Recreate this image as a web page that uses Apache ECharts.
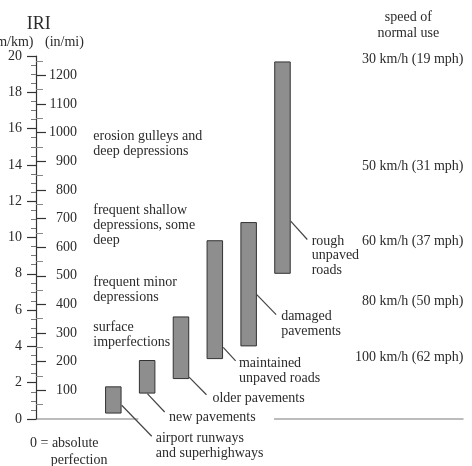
<!DOCTYPE html>
<html>
<head>
<meta charset="utf-8">
<script src="https://cdn.jsdelivr.net/npm/echarts@6/dist/echarts.min.js"></script>
<style>html,body{margin:0;padding:0;background:#fff;}#c{width:472px;height:466px;}</style>
</head>
<body>
<div id="c"></div>
<script>
// ---- data ----
var categories = ["airport runways\nand superhighways", "new pavements", "older pavements", "maintained\nunpaved roads", "damaged\npavements", "rough\nunpaved\nroads"];
var lowIRI  = [0.3, 1.4, 2.2, 3.3, 4.0, 8.0];     // m/km
var highIRI = [1.8, 3.25, 5.65, 9.85, 10.85, 19.7]; // m/km
var iriTicks = [0, 2, 4, 6, 8, 10, 12, 14, 16, 18, 20];          // m/km
var inmiTicks = [100, 200, 300, 400, 500, 600, 700, 800, 900, 1000, 1100, 1200]; // in/mi
var IN_PER_MI_PER_M_PER_KM = 63.36;
var speedLabels = ["30 km/h (19 mph)", "50 km/h (31 mph)", "60 km/h (37 mph)", "80 km/h (50 mph)", "100 km/h (62 mph)"];
var conditionLabels = ["erosion gulleys and\ndeep depressions", "frequent shallow\ndepressions, some\ndeep", "frequent minor\ndepressions", "surface\nimperfections"];

// ---- layout (pixels, not data) ----
var FONT = "'Liberation Serif', 'Times New Roman', serif";
var TXT = '#2b2b2b';
// leader line: start offset from bar bottom-centre, line vector, text offset from line end
var leaderLayout = [
  {sx: 8.4, sy: -8.3, lx: 30, ly: 31, tx: 4, ty: 2.3},
  {sx: 0.2, sy: 0, lx: 17.3, ly: 18.4, tx: 4.3, ty: 5.6},
  {sx: 8.1, sy: -2, lx: 17.4, ly: 17.7, tx: 6, ty: 4},
  {sx: 8.4, sy: -11.7, lx: 12.4, ly: 13.4, tx: 3.3, ty: 2.6},
  {sx: 8.1, sy: -51.7, lx: 19.4, ly: 20, tx: 5, ty: 1.7},
  {sx: 8.2, sy: -52.6, lx: 16.6, ly: 18.3, tx: 4.4, ty: 1.7}
];
var speedY = [59.3, 166.7, 241, 301.7, 357.3];
var condY = [136.7, 210.7, 282.3, 327.7];

var rangeVals = highIRI.map(function (h, i) { return +(h - lowIRI[i]).toFixed(3); });
var leaderData = categories.map(function (c, i) { return [i, lowIRI[i], highIRI[i]]; });

var chart = echarts.init(document.getElementById('c'), null, {renderer: 'canvas'});

var graphics = [];
function txt(s, x, y, opts) {
  opts = opts || {};
  graphics.push({
    type: 'text', x: x, y: y, silent: true,
    style: {
      text: s, font: (opts.size || 14) + 'px ' + FONT, fill: TXT,
      textAlign: opts.align || 'left', textVerticalAlign: opts.valign || 'middle',
      lineHeight: opts.lh || 14.6
    }
  });
}
txt('IRI', 38.7, 24, {size: 18, align: 'center'});
txt('(m/km)', 33.5, 42.7, {align: 'right'});
txt('(in/mi)', 45, 42.7);
txt('speed of', 408.3, 17.3, {align: 'center'});
txt('normal use', 408.3, 33.3, {align: 'center'});
speedLabels.forEach(function (s, i) { txt(s, 463.5, speedY[i], {align: 'right'}); });
conditionLabels.forEach(function (s, i) { txt(s, 93.3, condY[i] - 7.3, {valign: 'top'}); });
txt('0 = absolute', 30, 443.3);
txt('perfection', 50.7, 460);
// baseline (interrupted by the annotations)
graphics.push({type: 'line', silent: true, shape: {x1: 36, y1: 419, x2: 138.3, y2: 419}, style: {stroke: '#7a7a7a', lineWidth: 1.2}});
graphics.push({type: 'line', silent: true, shape: {x1: 274, y1: 419, x2: 463.5, y2: 419}, style: {stroke: '#7a7a7a', lineWidth: 1.2}});

var option = {
  backgroundColor: '#fff',
  animation: false,
  textStyle: {fontFamily: FONT},
  grid: [
    {left: 36, right: 9, top: 56, bottom: 47, containLabel: false},
    {left: 96.4, width: 203, top: 56, bottom: 47, containLabel: false}
  ],
  xAxis: [
    {gridIndex: 0, type: 'value', min: 0, max: 1, show: false},
    {gridIndex: 1, type: 'category', data: categories, show: false}
  ],
  yAxis: [
    {
      gridIndex: 0, type: 'value', position: 'left', min: iriTicks[0], max: iriTicks[iriTicks.length - 1], interval: 2,
      axisLine: {show: true, lineStyle: {color: '#333', width: 1.2}},
      axisTick: {show: true, length: 9, lineStyle: {color: '#333', width: 1.2}},
      minorTick: {show: true, splitNumber: 4, length: 5, lineStyle: {color: '#777', width: 1}},
      axisLabel: {margin: 14, fontSize: 14, color: TXT, fontFamily: FONT},
      splitLine: {show: false}
    },
    {
      gridIndex: 0, type: 'value', position: 'left', min: 0, max: iriTicks[iriTicks.length - 1] * IN_PER_MI_PER_M_PER_KM, interval: 100,
      axisLine: {show: false},
      axisTick: {show: true, inside: true, length: 10, customValues: inmiTicks, lineStyle: {color: '#333', width: 1.2}},
      minorTick: {show: true, splitNumber: 2, length: 7, lineStyle: {color: '#888', width: 1}},
      axisLabel: {inside: true, margin: 41, align: 'right', fontSize: 14, color: TXT, fontFamily: FONT, customValues: inmiTicks,
        formatter: function (v) { return (v > 0 && Math.abs(v % 100) < 1e-6) ? String(v) : ''; }},
      splitLine: {show: false}
    },
    {gridIndex: 1, type: 'value', min: iriTicks[0], max: iriTicks[iriTicks.length - 1], show: false}
  ],
  series: [
    {
      type: 'bar', xAxisIndex: 1, yAxisIndex: 2, stack: 'range', data: lowIRI, barWidth: 16.5, silent: true,
      itemStyle: {color: 'rgba(0,0,0,0)'}
    },
    {
      type: 'bar', xAxisIndex: 1, yAxisIndex: 2, stack: 'range', data: rangeVals, barWidth: 16.5, silent: true,
      itemStyle: {color: '#8e8e8e', borderColor: '#333', borderWidth: 1}
    },
    {
      type: 'custom', xAxisIndex: 1, yAxisIndex: 2, data: leaderData, silent: true, z: 5,
      renderItem: function (params, api) {
        var i = api.value(0);
        var p = api.coord([i, api.value(1)]);
        var L = leaderLayout[i];
        var x1 = p[0] + L.sx, y1 = p[1] + L.sy;
        var x2 = x1 + L.lx, y2 = y1 + L.ly;
        return {
          type: 'group',
          children: [
            {type: 'line', shape: {x1: x1, y1: y1, x2: x2, y2: y2}, style: {stroke: '#444', lineWidth: 1.2}},
            {type: 'text', x: x2 + L.tx, y: y2 + L.ty - 7.3,
              style: {text: categories[i], font: '14px ' + FONT, fill: TXT, textAlign: 'left', textVerticalAlign: 'top', lineHeight: 14.6}}
          ]
        };
      }
    }
  ],
  graphic: graphics
};
chart.setOption(option);
</script>
</body>
</html>
